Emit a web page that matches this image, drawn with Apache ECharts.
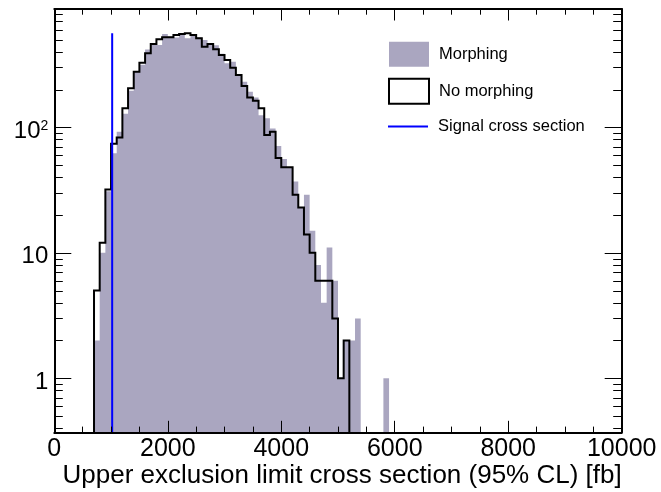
<!DOCTYPE html>
<html>
<head>
<meta charset="utf-8">
<script src="https://cdn.jsdelivr.net/npm/echarts@6/dist/echarts.min.js"></script>
<style>
html,body{margin:0;padding:0;background:#fff;}
#chart{width:661px;height:492px;}
</style>
</head>
<body>
<div id="chart"></div>
<script>
// ---- data ----
const binLowEdges = [700,800,900,1000,1100,1200,1300,1400,1500,1600,1700,1800,1900,2000,2100,2200,2300,2400,2500,2600,2700,2800,2900,3000,3100,3200,3300,3400,3500,3600,3700,3800,3900,4000,4100,4200,4300,4400,4500,4600,4700,4800,4900,5000,5100,5200,5300,5400,5500,5600,5700,5800];
const binWidth = 100;
const morphing = [2,10,31,62,92,128,196,280,315,418,470,453,554,530,520,560,512,545,520,496,470,450,385,324,333,262,231,192,173,125,118,98,71,56,48,37,23,29,15,8,4,11,6,1,2,2,3,0,0,0,0,1];
const noMorphing = [5,12,32,74,83,142,205,277,327,389,461,503,522,522,543,554,561,543,512,439,461,419,377,344,298,261,213,173,163,142,87,92,57,48,48,29,23,14,10,6,6,6,3,1,2,0,0,0,0,0,0,0];
const signalXS = 1020;
const signalLineTop = 561;
const xTickValues = [0,2000,4000,6000,8000,10000];
const xTickLabels = ['0','2000','4000','6000','8000','10000'];
const yMajorTicks = [1,10,100];
const yLabelBase = ['1','10','10'];
const yLabelExp = ['','','2'];
const yMinorTicks = [0.4,0.5,0.6,0.7,0.8,0.9,2,3,4,5,6,7,8,9,20,30,40,50,60,70,80,90,200,300,400,500,600,700,800];
const seriesNames = ['Morphing','No morphing','Signal cross section'];
const xTitle = 'Upper exclusion limit cross section (95% CL) [fb]';

// ---- style ----
const FONT = '"Liberation Sans", Arial, Helvetica, sans-serif';
const FILL = '#aaa6c0';
const yMin = 0.371, yMax = 877, xMin = 0, xMax = 10000;

function runs(values){
  const out=[]; let s=-1;
  for(let i=0;i<values.length;i++){
    if(values[i]>0){ if(s<0) s=i; }
    else if(s>=0){ out.push([s,i-1]); s=-1; }
  }
  if(s>=0) out.push([s,values.length-1]);
  return out;
}
function histPoints(api, values, r){
  const pts=[];
  pts.push(api.coord([binLowEdges[r[0]], yMin]));
  for(let i=r[0];i<=r[1];i++){
    pts.push(api.coord([binLowEdges[i], values[i]]));
    pts.push(api.coord([binLowEdges[i]+binWidth, values[i]]));
  }
  pts.push(api.coord([binLowEdges[r[1]]+binWidth, yMin]));
  return pts;
}

const chart = echarts.init(document.getElementById('chart'), null, {renderer:'canvas'});

const axisCommonX = {
  type:'value', min:xMin, max:xMax, interval:2000, z:10,
  axisLine:{show:true, onZero:false, lineStyle:{color:'#000', width:2}},
  axisTick:{show:true, inside:true, length:11.5, lineStyle:{color:'#000', width:1}},
  minorTick:{show:true, splitNumber:4, length:5.7, lineStyle:{color:'#000', width:1}},
  splitLine:{show:false}, minorSplitLine:{show:false}
};
const legendText = {color:'#000', fontSize:16.5, fontFamily:FONT, padding:[0,0,0,5]};

const option = {
  animation:false,
  backgroundColor:'#fff',
  grid:{left:54.3, right:39.3, top:9, bottom:59.7, containLabel:false},
  xAxis:[
    Object.assign({}, axisCommonX, {
      position:'bottom',
      axisLabel:{show:true, color:'#000', fontSize:25, fontFamily:FONT, margin:4, lineHeight:25,
        showMinLabel:true, showMaxLabel:true, hideOverlap:false,
        formatter:function(v){ const k = xTickValues.indexOf(v); return k>=0 ? xTickLabels[k] : ''; }}
    }),
    Object.assign({}, axisCommonX, {position:'top', axisLabel:{show:false}})
  ],
  yAxis:[
    {type:'log', logBase:10, min:yMin, max:yMax, position:'left', z:10,
     axisLine:{show:true, onZero:false, lineStyle:{color:'#000', width:2}},
     axisTick:{show:false}, minorTick:{show:false}, splitLine:{show:false},
     axisLabel:{show:true, color:'#000', fontSize:24, fontFamily:FONT, margin:6, padding:[8,0,0,0],
       showMinLabel:true, showMaxLabel:true,
       formatter:function(v){
         for(let k=0;k<yMajorTicks.length;k++){
           if(Math.abs(v-yMajorTicks[k]) < 1e-6*yMajorTicks[k]){
             return yLabelExp[k] ? '{b|'+yLabelBase[k]+'}{s|'+yLabelExp[k]+'}' : '{b|'+yLabelBase[k]+'}';
           }
         }
         return '';
       },
       rich:{
         b:{fontSize:24, fontFamily:FONT, color:'#000', lineHeight:24},
         s:{fontSize:14, fontFamily:FONT, color:'#000', lineHeight:24, verticalAlign:'top', padding:[0,0,12,0]}
       }}
    },
    {type:'log', logBase:10, min:yMin, max:yMax, position:'right', z:10,
     axisLine:{show:true, onZero:false, lineStyle:{color:'#000', width:2}},
     axisTick:{show:false}, minorTick:{show:false}, splitLine:{show:false}, axisLabel:{show:false}}
  ],
  legend:[
    {
      orient:'vertical', left:388, top:41.7, padding:0, itemWidth:40, itemHeight:25, itemGap:11,
      selectedMode:false, textStyle:legendText,
      data:[
        {name:seriesNames[0], icon:'rect', itemStyle:{color:FILL, borderWidth:0}},
        {name:seriesNames[1], icon:'rect', itemStyle:{color:'#fff', borderColor:'#000', borderWidth:2}}
      ]
    },
    {
      orient:'vertical', left:388, top:118, padding:0, itemWidth:40, itemHeight:25,
      selectedMode:false, symbolKeepAspect:true, textStyle:legendText,
      data:[
        {name:seriesNames[2], icon:'path://M0,0 L40,0 L40,2 L0,2 Z', itemStyle:{color:'#0000ff', borderWidth:0}}
      ]
    }
  ],
  series:[
    {
      name:seriesNames[0], type:'custom', xAxisIndex:0, yAxisIndex:0, z:2,
      itemStyle:{color:FILL},
      data: binLowEdges.map((x,i)=>[x, morphing[i]]),
      encode:{x:0, y:1},
      renderItem:function(params, api){
        if(params.dataIndex!==0) return null;
        const children = runs(morphing).map(r=>({
          type:'polygon', shape:{points:histPoints(api, morphing, r)},
          style:{fill:FILL, stroke:null}
        }));
        return {type:'group', children:children};
      }
    },
    {
      name:seriesNames[1], type:'custom', xAxisIndex:0, yAxisIndex:0, z:3,
      itemStyle:{color:'#000'},
      data: binLowEdges.map((x,i)=>[x, noMorphing[i]]),
      encode:{x:0, y:1},
      renderItem:function(params, api){
        if(params.dataIndex!==0) return null;
        const children = runs(noMorphing).map(r=>({
          type:'polyline', shape:{points:histPoints(api, noMorphing, r)},
          style:{fill:null, stroke:'#000', lineWidth:2, lineJoin:'miter'}
        }));
        return {type:'group', children:children};
      }
    },
    {
      name:seriesNames[2], type:'line', xAxisIndex:0, yAxisIndex:0, z:4,
      data:[[signalXS, yMin],[signalXS, signalLineTop]],
      symbol:'none', showSymbol:false,
      lineStyle:{color:'#0000ff', width:2},
      itemStyle:{color:'#0000ff'}
    },
    {
      name:'yticks', type:'custom', xAxisIndex:0, yAxisIndex:0, z:12, silent:true,
      data: yMajorTicks.map(v=>[xMin, v, 1]).concat(yMinorTicks.map(v=>[xMin, v, 0])),
      encode:{x:0, y:1},
      renderItem:function(params, api){
        const v = api.value(1), major = api.value(2)===1;
        const len = major ? 17 : 8.5;
        const p = api.coord([xMin, v]);
        const q = api.coord([xMax, v]);
        const y = Math.round(p[1]) + 0.5;
        return {type:'group', children:[
          {type:'line', shape:{x1:p[0], y1:y, x2:p[0]+len, y2:y}, style:{stroke:'#000', lineWidth:1}},
          {type:'line', shape:{x1:q[0]-len, y1:y, x2:q[0], y2:y}, style:{stroke:'#000', lineWidth:1}}
        ]};
      }
    }
  ],
  graphic:[
    {type:'text', right:661-621.7, top:463, z:20,
     style:{text:xTitle, fill:'#000', fontSize:26, fontFamily:FONT, textAlign:'right'}}
  ]
};
chart.setOption(option);
</script>
</body>
</html>
